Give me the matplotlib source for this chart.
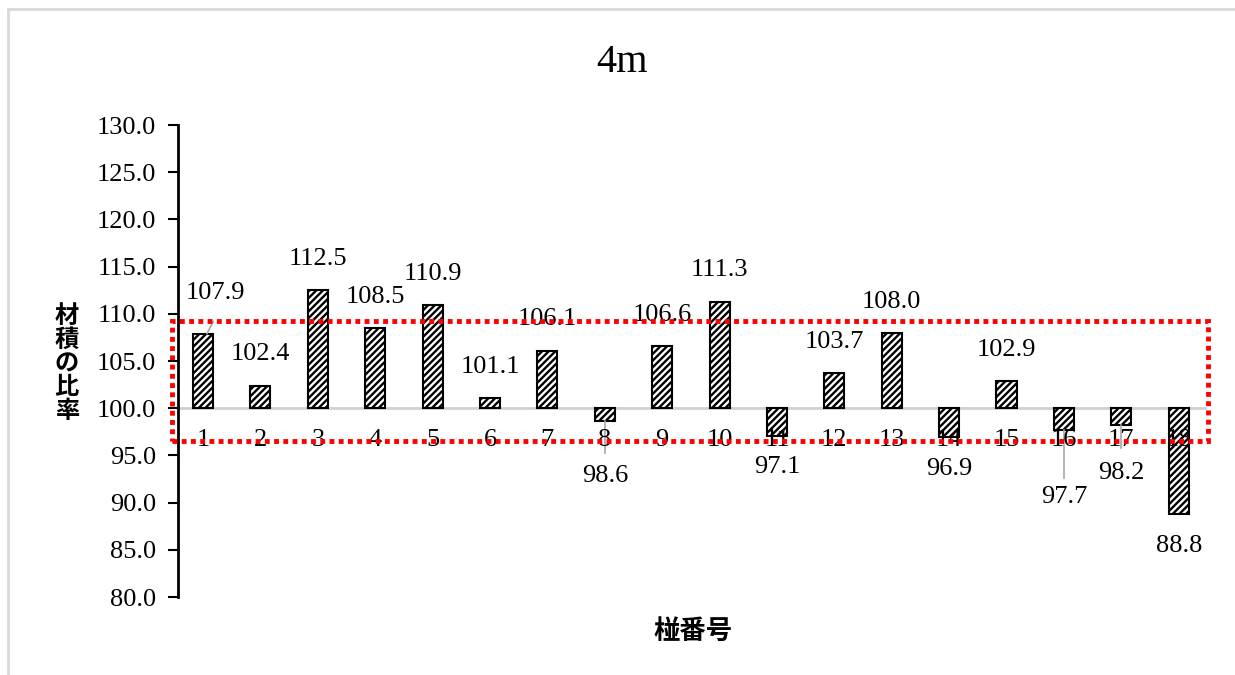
import matplotlib
matplotlib.use("Agg")
import matplotlib.pyplot as plt
from matplotlib.lines import Line2D
from matplotlib.patches import Rectangle

plt.rcParams['font.family'] = ['Liberation Serif', 'Noto Sans CJK JP']
plt.rcParams['hatch.linewidth'] = 1.7

# ratio of volume per stem number (100 = baseline)
stems = [str(i) for i in range(1, 19)]
ratios = [107.9, 102.4, 112.5, 108.5, 110.9, 101.1, 106.1, 98.6, 106.6,
          111.3, 97.1, 103.7, 108.0, 96.9, 102.9, 97.7, 98.2, 88.8]

# where each value label sits (data y), and x nudges for moved labels
label_y = [112.2, 105.7, 115.8, 111.8, 114.2, 104.4, 109.4, 92.8, 109.9,
           114.6, 93.8, 107.0, 111.3, 93.6, 106.2, 90.6, 93.1, 85.4]
label_dx = [0.21] + [0.0] * 17

base = 100.0
x = list(range(len(stems)))

fig = plt.figure(figsize=(12.35, 6.75), dpi=100)
ax = fig.add_axes([178 / 1235, 78 / 675, 1030 / 1235, 472 / 675])

heights = [r - base for r in ratios]
ax.bar(x, heights, bottom=base, width=0.35, color='white',
       edgecolor='black', linewidth=1.5, hatch='/////', zorder=3)

ax.axhline(base, color='#d0d0d0', linewidth=2, zorder=2, xmax=0.997)

ax.set_xlim(-0.435, 17.51)
ax.set_ylim(80, 130)
ax.set_yticks(range(80, 131, 5))
ax.set_yticklabels([f"{v:.1f}" for v in range(80, 131, 5)], fontsize=19)
ax.tick_params(axis='y', direction='out', length=7, width=1.5, pad=9)
ax.set_xticks([])

for s in ['top', 'right', 'bottom']:
    ax.spines[s].set_visible(False)
ax.spines['left'].set_linewidth(2)

# stem numbers sit just under the 100 line
for xi, s in zip(x, stems):
    ax.text(xi, 96.6, s, ha='center', va='center', fontsize=19, zorder=5)

# value labels
for xi, r, ly, dx in zip(x, ratios, label_y, label_dx):
    ax.text(xi + dx, ly, f"{r:.1f}", ha='center', va='center',
            fontsize=19, zorder=5)

# leader lines for labels pulled away from their bars
leaders = [((0.07, 107.9), (0.18, 109.2)),
           ((7, 98.6), (7, 95.3)),
           ((15, 97.7), (15, 92.6)),
           ((16, 98.2), (16, 95.8))]
for p0, p1 in leaders:
    ax.plot([p0[0], p1[0]], [p0[1], p1[1]], color='#a6a6a6',
            linewidth=1.2, zorder=4)

# highlighted band
ax.add_patch(Rectangle((-0.54, 96.5), 18.05, 12.7, fill=False,
                       edgecolor='red', linewidth=3.5, linestyle=(0, (1, 0.9)),
                       clip_on=False, zorder=6))

ax.set_ylabel("材\n積\nの\n比\n率", rotation=0, fontsize=17.5,
              family='Noto Sans CJK JP', fontweight='bold',
              linespacing=0.98, va='center')
ax.yaxis.set_label_coords(-0.108, 0.495)
ax.set_xlabel("椪番号", fontsize=19, family='Noto Sans CJK JP',
              fontweight='bold')
ax.xaxis.set_label_coords(0.5, -0.045)

fig.text(622 / 1235, 1 - 62 / 675, "4m", ha='center', va='center',
         fontsize=29)

# chart frame
fig.add_artist(Line2D([8 / 1235, 8 / 1235], [0, 1 - 9 / 675],
                      transform=fig.transFigure, color='#d9d9d9', linewidth=2))
fig.add_artist(Line2D([8 / 1235, 1], [1 - 9 / 675, 1 - 9 / 675],
                      transform=fig.transFigure, color='#d9d9d9', linewidth=2))

fig.savefig("out.png", dpi=100)
